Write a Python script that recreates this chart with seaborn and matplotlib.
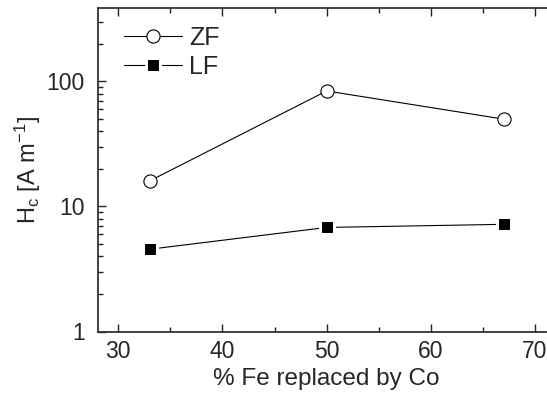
import matplotlib
matplotlib.use('Agg')
import matplotlib.pyplot as plt
import seaborn as sns
import pandas as pd
from matplotlib.ticker import MultipleLocator, LogLocator, NullFormatter, FixedLocator, FixedFormatter

# data
fe_replaced = [33, 50, 67]
hc_zf = [16.0, 84.0, 50.0]
hc_lf = [4.55, 6.8, 7.2]

sns.set_style('ticks')
plt.rcParams['font.family'] = ['Liberation Sans', 'DejaVu Sans']
plt.rcParams['mathtext.fontset'] = 'custom'
plt.rcParams['mathtext.rm'] = 'Liberation Sans'
plt.rcParams['mathtext.it'] = 'Liberation Sans:italic'

df = pd.DataFrame({'x': fe_replaced, 'ZF': hc_zf, 'LF': hc_lf})

fig = plt.figure(figsize=(5.47, 3.94), dpi=100)
ax = fig.add_axes([97.5 / 547, 1 - 331.5 / 394, (555.8 - 97.5) / 547, (331.5 - 8.3) / 394])

sns.lineplot(data=df, x='x', y='ZF', ax=ax, color='black', lw=0.8,
             marker='o', markersize=9.5, markerfacecolor='white',
             markeredgecolor='black', markeredgewidth=0.8, label='ZF')
# white edge leaves a small gap between line and square, as in the original
sns.lineplot(data=df, x='x', y='LF', ax=ax, color='black', lw=0.8,
             marker='s', markersize=10, markerfacecolor='black',
             markeredgecolor='white', markeredgewidth=2.2, label='LF')

ax.set_yscale('log')
ax.set_ylim(1, 385)
ax.set_xlim(28, 72)

ax.xaxis.set_major_locator(MultipleLocator(10))
ax.xaxis.set_minor_locator(MultipleLocator(5))
ax.yaxis.set_major_locator(FixedLocator([1, 10, 100]))
ax.yaxis.set_major_formatter(FixedFormatter(['1', '10', '100']))
ax.yaxis.set_minor_locator(LogLocator(base=10, subs=range(2, 10), numticks=10))
ax.yaxis.set_minor_formatter(NullFormatter())

ax.tick_params(which='both', direction='in', top=True, right=False,
               labelsize=16.5, color='#222222', width=1.0)
ax.tick_params(which='major', length=6, pad=6)
ax.tick_params(axis='y', which='major', pad=9)
ax.tick_params(which='minor', length=3.5)
for s in ax.spines.values():
    s.set_linewidth(1.3)
    s.set_color('#333333')

ax.set_xlabel('% Fe replaced by Co', fontsize=17.5, labelpad=4)
ax.set_ylabel(r'H$_\mathregular{c}$ [A m$^\mathregular{-1}$]', fontsize=17, labelpad=3)

ax.legend(loc='upper left', frameon=False, fontsize=18, handlelength=2.3,
          handletextpad=0.3, labelspacing=0.2, borderaxespad=0.3,
          bbox_to_anchor=(0.02, 1.0))

fig.savefig('out.png', dpi=100)
